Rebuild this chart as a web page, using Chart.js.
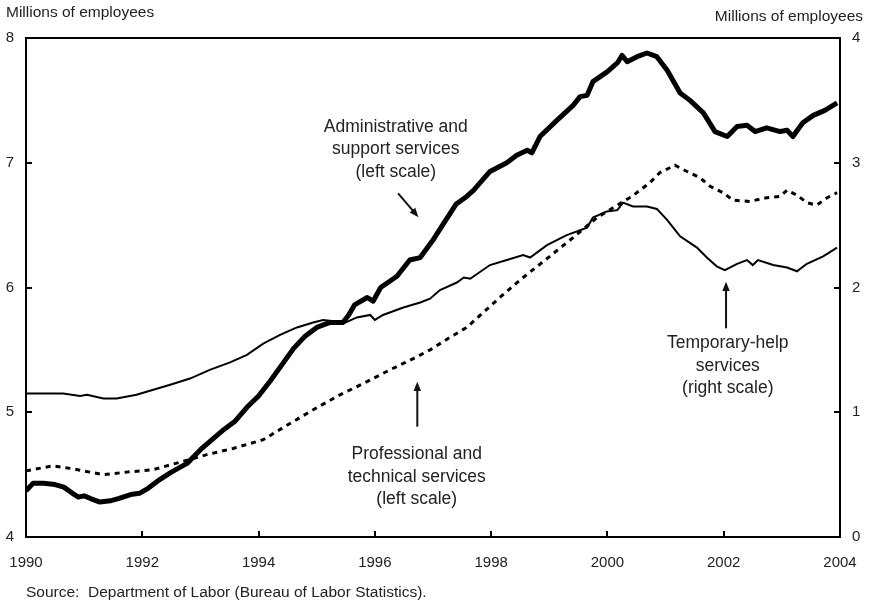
<!DOCTYPE html>
<html>
<head>
<meta charset="utf-8">
<script src="https://cdn.jsdelivr.net/npm/chart.js@4.4.1/dist/chart.umd.min.js"></script>
<style>
  html, body { margin: 0; padding: 0; background: #fff; }
  canvas { display: block; }
</style>
</head>
<body>
<canvas id="chart" width="871" height="605"></canvas>
<script>
// Administrative and support services, millions (left scale)
const adminYears = [1990.0, 1990.12, 1990.3, 1990.5, 1990.65, 1990.8, 1990.9, 1991.0, 1991.1, 1991.27,
  1991.45, 1991.6, 1991.8, 1991.95, 1992.1, 1992.3, 1992.5, 1992.77, 1993.0, 1993.2,
  1993.4, 1993.6, 1993.8, 1994.0, 1994.2, 1994.4, 1994.6, 1994.8, 1995.0, 1995.23,
  1995.45, 1995.55, 1995.65, 1995.87, 1995.97, 1996.1, 1996.38, 1996.6, 1996.78, 1997.0,
  1997.15, 1997.4, 1997.58, 1997.7, 1997.98, 1998.27, 1998.44, 1998.62, 1998.7, 1998.84,
  1999.13, 1999.41, 1999.53, 1999.65, 1999.75, 2000.0, 2000.17, 2000.25, 2000.34, 2000.51,
  2000.68, 2000.85, 2001.03, 2001.25, 2001.42, 2001.65, 2001.85, 2002.06, 2002.23, 2002.4,
  2002.54, 2002.74, 2002.97, 2003.09, 2003.19, 2003.36, 2003.54, 2003.74, 2003.95];
const adminValues = [4.37, 4.43, 4.43, 4.42, 4.40, 4.35, 4.32, 4.33, 4.31, 4.28,
  4.29, 4.31, 4.34, 4.35, 4.39, 4.46, 4.52, 4.59, 4.70, 4.78,
  4.86, 4.93, 5.04, 5.13, 5.25, 5.38, 5.51, 5.61, 5.68, 5.72,
  5.72, 5.78, 5.86, 5.92, 5.89, 6.00, 6.09, 6.22, 6.24, 6.38,
  6.49, 6.67, 6.73, 6.78, 6.93, 7.00, 7.06, 7.10, 7.08, 7.21,
  7.34, 7.46, 7.53, 7.54, 7.65, 7.73, 7.80, 7.86, 7.81, 7.85,
  7.88, 7.85, 7.74, 7.56, 7.50, 7.40, 7.25, 7.21, 7.29, 7.30,
  7.25, 7.28, 7.25, 7.26, 7.21, 7.32, 7.38, 7.42, 7.48];

// Temporary-help services, millions (right scale)
const tempYears = [1990.0, 1990.3, 1990.64, 1990.93, 1991.05, 1991.33, 1991.56, 1991.9, 1992.19, 1992.48,
  1992.82, 1993.16, 1993.51, 1993.8, 1994.08, 1994.37, 1994.66, 1994.94, 1995.11, 1995.3,
  1995.45, 1995.69, 1995.92, 1996.0, 1996.14, 1996.49, 1996.78, 1996.95, 1997.12, 1997.41,
  1997.53, 1997.64, 1997.98, 1998.27, 1998.55, 1998.67, 1998.96, 1999.3, 1999.65, 1999.75,
  1999.99, 2000.17, 2000.27, 2000.44, 2000.68, 2000.85, 2001.03, 2001.25, 2001.54, 2001.71,
  2001.88, 2002.02, 2002.23, 2002.4, 2002.5, 2002.59, 2002.85, 2003.09, 2003.26, 2003.43,
  2003.71, 2003.95];
const tempValues = [1.15, 1.15, 1.15, 1.13, 1.14, 1.11, 1.11, 1.14, 1.18, 1.22,
  1.27, 1.34, 1.40, 1.46, 1.55, 1.62, 1.68, 1.72, 1.74, 1.73,
  1.71, 1.76, 1.78, 1.74, 1.78, 1.84, 1.88, 1.91, 1.98, 2.04,
  2.08, 2.07, 2.18, 2.22, 2.26, 2.24, 2.34, 2.42, 2.48, 2.56,
  2.61, 2.62, 2.68, 2.65, 2.65, 2.63, 2.54, 2.41, 2.32, 2.24,
  2.17, 2.14, 2.19, 2.22, 2.18, 2.22, 2.18, 2.16, 2.13, 2.19,
  2.25, 2.32];

// Professional and technical services, millions (left scale)
const profYears = [1990.0, 1990.46, 1990.76, 1991.33, 1991.73, 1992.19, 1992.65, 1993.11, 1993.56, 1994.08,
  1994.54, 1994.94, 1995.4, 1995.8, 1996.26, 1996.66, 1996.95, 1997.29, 1997.58, 1998.15,
  1998.55, 1999.01, 1999.41, 1999.82, 2000.17, 2000.42, 2000.73, 2000.9, 2001.16, 2001.37,
  2001.59, 2001.77, 2001.99, 2002.16, 2002.45, 2002.74, 2002.97, 2003.09, 2003.26, 2003.43,
  2003.6, 2003.78, 2003.95];
const profValues = [4.53, 4.57, 4.55, 4.50, 4.52, 4.54, 4.60, 4.66, 4.71, 4.78,
  4.91, 5.02, 5.14, 5.23, 5.34, 5.43, 5.50, 5.60, 5.68, 5.92,
  6.08, 6.25, 6.40, 6.56, 6.66, 6.73, 6.84, 6.92, 6.98, 6.93,
  6.88, 6.81, 6.76, 6.70, 6.69, 6.72, 6.73, 6.78, 6.74, 6.68,
  6.66, 6.72, 6.76];

const yearTicks = [1990, 1992, 1994, 1996, 1998, 2000, 2002, 2004];
const leftTicks = [4, 5, 6, 7, 8];
const rightTicks = [0, 1, 2, 3, 4];

const textColor = '#222';
const font = 'Liberation Sans, Arial, sans-serif';

function toPoints(xs, ys) {
  return xs.map((x, i) => ({ x: x, y: ys[i] }));
}

// labels with arrows, anchored in data coordinates (x = year, y = first baseline)
const notes = [
  { lines: ['Administrative and', 'support services', '(left scale)'], x: 1996.36, y: 7.25, axis: 'y',
    arrow: [1996.40, 6.755, 1996.75, 6.563] },
  { lines: ['Temporary-help', 'services', '(right scale)'], x: 2002.07, y: 1.513, axis: 'y1',
    arrow: [2002.04, 1.673, 2002.04, 2.047] },
  { lines: ['Professional and', 'technical services', '(left scale)'], x: 1996.72, y: 4.623, axis: 'y',
    arrow: [1996.73, 4.884, 1996.73, 5.245] }
];

function arrow(ctx, x1, y1, x2, y2) {
  const a = Math.atan2(y2 - y1, x2 - x1);
  const h = 10;
  ctx.beginPath();
  ctx.moveTo(x1, y1);
  ctx.lineTo(x2 - Math.cos(a) * h * 0.8, y2 - Math.sin(a) * h * 0.8);
  ctx.lineWidth = 2;
  ctx.stroke();
  ctx.beginPath();
  ctx.moveTo(x2, y2);
  ctx.lineTo(x2 - h * Math.cos(a - 0.38), y2 - h * Math.sin(a - 0.38));
  ctx.lineTo(x2 - h * Math.cos(a + 0.38), y2 - h * Math.sin(a + 0.38));
  ctx.closePath();
  ctx.fill();
}

const decorations = {
  id: 'decorations',
  afterDraw(chart) {
    const ctx = chart.ctx;
    const area = chart.chartArea;
    const sx = chart.scales.x, sy = chart.scales.y, sy1 = chart.scales.y1;
    ctx.save();
    ctx.strokeStyle = '#000';
    ctx.fillStyle = '#000';
    ctx.lineWidth = 2;
    ctx.strokeRect(area.left, area.top, area.right - area.left, area.bottom - area.top);

    // inward tick marks
    ctx.beginPath();
    yearTicks.forEach(v => {
      const px = Math.round(sx.getPixelForValue(v));
      ctx.moveTo(px, area.bottom);
      ctx.lineTo(px, area.bottom - 6);
    });
    leftTicks.forEach(v => {
      const py = Math.round(sy.getPixelForValue(v));
      ctx.moveTo(area.left, py);
      ctx.lineTo(area.left + 6, py);
    });
    rightTicks.forEach(v => {
      const py = Math.round(sy1.getPixelForValue(v));
      ctx.moveTo(area.right, py);
      ctx.lineTo(area.right - 6, py);
    });
    ctx.stroke();

    // annotations
    ctx.font = '17.5px ' + font;
    ctx.textAlign = 'center';
    ctx.textBaseline = 'alphabetic';
    notes.forEach(n => {
      const scale = chart.scales[n.axis];
      const cx = sx.getPixelForValue(n.x);
      const cy = scale.getPixelForValue(n.y);
      ctx.fillStyle = textColor;
      n.lines.forEach((t, i) => ctx.fillText(t, cx, cy + i * 22.5));
      const a = n.arrow;
      ctx.strokeStyle = '#111';
      ctx.fillStyle = '#111';
      arrow(ctx, sx.getPixelForValue(a[0]), scale.getPixelForValue(a[1]),
        sx.getPixelForValue(a[2]), scale.getPixelForValue(a[3]));
    });

    // axis titles and source
    ctx.fillStyle = textColor;
    ctx.textBaseline = 'middle';
    ctx.font = '15.5px ' + font;
    ctx.textAlign = 'left';
    ctx.fillText('Millions of employees', 6, 13);
    ctx.textAlign = 'right';
    ctx.fillText('Millions of employees', 863, 17);
    ctx.textAlign = 'left';
    ctx.fillText('Source:  Department of Labor (Bureau of Labor Statistics).', 26, 593);
    ctx.restore();
  }
};

new Chart(document.getElementById('chart'), {
  type: 'line',
  data: {
    datasets: [
      {
        label: 'Administrative and support services',
        data: toPoints(adminYears, adminValues),
        yAxisID: 'y',
        borderColor: '#000',
        borderWidth: 5,
        borderJoinStyle: 'round',
        pointRadius: 0,
        tension: 0
      },
      {
        label: 'Temporary-help services',
        data: toPoints(tempYears, tempValues),
        yAxisID: 'y1',
        borderColor: '#000',
        borderWidth: 2,
        pointRadius: 0,
        tension: 0
      },
      {
        label: 'Professional and technical services',
        data: toPoints(profYears, profValues),
        yAxisID: 'y',
        borderColor: '#000',
        borderWidth: 3,
        borderDash: [5, 5],
        pointRadius: 0,
        tension: 0
      }
    ]
  },
  options: {
    responsive: false,
    devicePixelRatio: 1,
    animation: false,
    layout: { padding: { top: 38, left: 0, right: 0, bottom: 0 } },
    plugins: {
      legend: { display: false },
      tooltip: { enabled: false }
    },
    scales: {
      x: {
        type: 'linear',
        min: 1990,
        max: 2004,
        grid: { display: false, tickLength: 17 },
        border: { display: false },
        ticks: {
          stepSize: 2,
          padding: 0,
          maxRotation: 0,
          color: textColor,
          font: { family: font, size: 15 },
          callback: v => String(v)
        },
        afterFit: s => { s.height = 68; }
      },
      y: {
        position: 'left',
        min: 4,
        max: 8,
        grid: { display: false, tickLength: 12 },
        border: { display: false },
        ticks: {
          stepSize: 1,
          padding: 0,
          color: textColor,
          font: { family: font, size: 15 }
        },
        afterFit: s => { s.width = 26; }
      },
      y1: {
        position: 'right',
        min: 0,
        max: 4,
        grid: { display: false, tickLength: 12 },
        border: { display: false },
        ticks: {
          stepSize: 1,
          padding: 0,
          color: textColor,
          font: { family: font, size: 15 }
        },
        afterFit: s => { s.width = 31; }
      }
    }
  },
  plugins: [decorations]
});
</script>
</body>
</html>
